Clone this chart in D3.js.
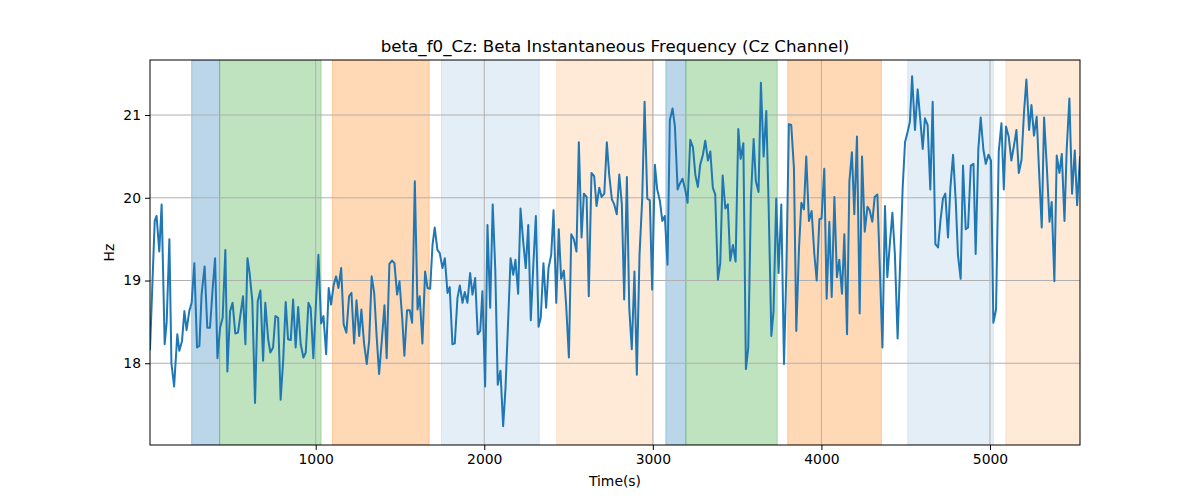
<!DOCTYPE html>
<html>
<head>
<meta charset="utf-8">
<script src="https://cdn.jsdelivr.net/npm/d3@7"></script>
<style>
  body { margin: 0; background: #fff; }
  svg { display: block; }
  text { font-family: "DejaVu Sans", sans-serif; fill: #000; }
</style>
</head>
<body>
<svg id="chart" width="1200" height="500"></svg>
<script>
const title = "beta_f0_Cz: Beta Instantaneous Frequency (Cz Channel)";
const xLabel = "Time(s)";
const yLabel = "Hz";
const xTicks = [1000, 2000, 3000, 4000, 5000];
const yTicks = [18, 19, 20, 21];

const times = [17,45,56,72,86,104,116,132,144,160,179,191,207,221,234,250,264,280,296,310,
323,341,357,373,389,403,417,433,448,464,476,492,507,523,539,555,569,583,595,608,
624,640,656,672,688,701,718,731,747,761,777,792,807,822,836,852,866,881,896,911,
927,941,957,970,986,1002,1016,1032,1046,1062,1077,1091,1107,1121,1135,1151,1166,1182,1198,1212,
1228,1242,1258,1271,1287,1303,1317,1332,1347,1362,1376,1392,1408,1421,1437,1453,1467,1483,1497,1513,
1526,1542,1558,1572,1588,1604,1617,1633,1649,1663,1679,1693,1706,1722,1736,1752,1766,1782,1795,1811,
1825,1841,1855,1871,1884,1900,1916,1930,1946,1961,1976,1989,2005,2019,2035,2050,2065,2080,2096,2112,
2126,2140,2156,2172,2185,2201,2215,2231,2246,2261,2276,2292,2306,2322,2335,2351,2367,2381,2397,2411,
2427,2442,2456,2472,2486,2502,2516,2531,2547,2561,2577,2591,2607,2620,2636,2652,2666,2682,2696,2712,
2727,2741,2757,2771,2786,2801,2816,2830,2846,2860,2875,2891,2905,2921,2937,2951,2967,2982,2996,3012,
3026,3042,3056,3071,3087,3101,3117,3131,3147,3160,3176,3192,3206,3222,3238,3252,3267,3281,3297,3311,
3327,3341,3356,3370,3386,3400,3414,3430,3445,3459,3475,3491,3507,3521,3537,3552,3566,3582,3598,3611,
3627,3641,3657,3673,3687,3703,3716,3732,3746,3762,3778,3792,3807,3821,3837,3851,3867,3881,3896,3910,
3926,3942,3958,3972,3988,4001,4017,4031,4047,4061,4077,4092,4106,4122,4136,4152,4166,4181,4195,4211,
4227,4241,4257,4273,4286,4302,4316,4332,4362,4377,4391,4407,4421,4436,4452,4466,4482,4496,4512,4525,
4538,4555,4571,4585,4601,4614,4630,4646,4660,4676,4692,4706,4721,4735,4751,4765,4781,4797,4810,4826,
4840,4856,4870,4886,4902,4915,4931,4945,4961,4975,4991,5006,5020,5036,5052,5068,5082,5095,5111,5127,
5143,5157,5171,5187,5202,5216,5232,5246,5261,5277,5291,5307,5321,5337,5353,5366,5382,5396,5412,5426,
5442,5455,5471,5487,5503,5517,5534];

const freqs = [18.17,19.72,19.78,19.35,19.92,18.23,18.5,19.5,18.0,17.72,18.35,18.15,18.27,18.63,18.4,18.63,18.73,19.21,18.19,18.21,
18.83,19.17,18.43,18.43,18.91,19.27,18.06,18.43,18.55,19.37,17.9,18.63,18.73,18.36,18.37,18.61,18.81,18.23,19.27,19.09,
18.75,17.52,18.75,18.88,18.03,18.73,18.29,18.13,18.19,18.57,18.55,17.56,18.03,18.74,18.29,18.28,18.77,18.19,18.68,18.23,
18.07,18.13,18.73,18.67,18.06,18.75,19.31,18.48,18.57,18.11,18.91,18.71,18.95,19.05,18.91,19.15,18.47,18.37,18.81,18.85,
18.24,18.76,18.33,18.65,18.24,17.99,18.27,19.05,18.85,18.31,17.87,18.27,18.7,18.06,19.2,19.24,19.21,18.83,18.99,18.55,
18.09,18.64,18.64,18.49,20.2,18.65,18.81,18.24,19.11,18.91,18.9,19.43,19.64,19.37,19.33,19.15,19.27,18.85,18.92,18.23,
18.24,18.79,18.94,18.73,18.86,18.73,19.09,18.83,19.03,18.35,18.39,18.87,17.72,19.67,18.67,19.92,19.15,17.74,17.91,17.24,
17.7,18.43,19.27,19.07,19.25,18.84,19.87,19.47,19.15,19.67,18.52,19.23,19.78,18.44,18.55,19.21,18.67,19.15,19.31,19.85,
18.73,19.62,19.02,19.12,18.69,18.07,19.56,19.5,19.35,20.67,19.52,20.05,20.01,18.81,20.3,20.26,19.9,20.12,20.01,20.05,
20.67,20.28,19.98,19.92,19.8,20.28,19.92,18.77,20.25,18.67,18.17,19.11,17.86,19.31,19.99,21.16,19.99,19.97,18.89,20.4,
20.1,19.96,19.72,19.78,19.19,20.94,21.08,20.86,20.1,20.17,20.23,20.1,19.94,20.7,20.61,20.28,20.13,20.4,20.52,20.69,
20.45,20.56,20.12,20.04,19.01,19.21,20.27,19.87,19.92,19.24,19.43,19.23,20.83,20.47,20.66,17.93,18.19,20.0,20.71,20.2,
20.07,21.39,20.5,21.05,19.9,18.33,18.63,19.99,19.09,19.92,17.99,19.11,20.89,20.88,20.36,18.39,19.39,19.94,19.86,20.5,
19.72,19.84,19.32,19.0,19.74,19.75,20.35,18.78,19.71,18.8,20.01,19.04,19.25,18.84,19.56,18.35,20.2,20.55,19.8,20.74,
18.6,20.5,19.59,19.89,19.85,19.71,20.01,20.04,18.19,19.9,19.04,19.47,19.82,19.31,18.3,19.15,20.12,20.67,20.8,20.92,
21.47,20.82,21.31,20.98,20.59,20.96,20.88,20.1,21.16,19.44,19.4,19.72,19.99,20.05,19.52,20.12,20.52,19.96,19.31,19.02,
20.39,19.62,19.64,20.39,20.41,19.32,20.59,20.97,20.58,20.41,20.52,20.45,18.49,18.65,20.56,20.9,20.1,20.86,20.74,20.45,
20.64,20.82,20.3,20.46,21.04,21.43,20.82,21.12,20.75,20.98,20.33,19.64,20.97,20.38,19.71,19.95,18.99,20.51,20.3,20.53,
19.72,20.58,21.2,20.05,20.57,19.91,20.49];

// Shaded intervals (start, end in seconds) and their colour / opacity
const bandStarts = [264, 430, 1099, 1746, 2429, 3077, 3196, 3800, 4512, 5094];
const bandEnds   = [430, 1032, 1673, 2326, 3003, 3196, 3738, 4356, 5020, 5534];
const bandColors = ["#1f77b4", "#2ca02c", "#ff7f0e", "#1f77b4", "#ff7f0e", "#1f77b4", "#2ca02c", "#ff7f0e", "#1f77b4", "#ff7f0e"];
const bandAlphas = [0.3, 0.3, 0.3, 0.12, 0.16, 0.3, 0.3, 0.3, 0.12, 0.16];

const margin = {left: 150, right: 120, top: 60, bottom: 55};
const W = 1200, H = 500;
const iw = W - margin.left - margin.right;
const ih = H - margin.top - margin.bottom;

const svg = d3.select("#chart");
const g = svg.append("g").attr("transform", `translate(${margin.left},${margin.top})`);

const x = d3.scaleLinear().domain([times[0], times[times.length - 1]]).range([0, iw]);
const y = d3.scaleLinear().domain([17.012, 21.665]).range([ih, 0]);

g.append("defs").append("clipPath").attr("id", "clip")
  .append("rect").attr("width", iw).attr("height", ih);

const bands = bandStarts.map((s, i) => ({s, e: bandEnds[i], c: bandColors[i], a: bandAlphas[i]}));
g.append("g").attr("clip-path", "url(#clip)")
  .selectAll("rect").data(bands).join("rect")
  .attr("x", d => x(d.s)).attr("width", d => x(d.e) - x(d.s))
  .attr("y", 0).attr("height", ih)
  .attr("fill", d => d.c).attr("fill-opacity", d => d.a)
  .attr("stroke", d => d.c).attr("stroke-opacity", d => d.a).attr("stroke-width", 1);

// grid
g.append("g").selectAll("line").data(xTicks).join("line")
  .attr("x1", d => x(d)).attr("x2", d => x(d)).attr("y1", 0).attr("y2", ih)
  .attr("stroke", "#b0b0b0").attr("stroke-width", 1);
g.append("g").selectAll("line").data(yTicks).join("line")
  .attr("y1", d => y(d)).attr("y2", d => y(d)).attr("x1", 0).attr("x2", iw)
  .attr("stroke", "#b0b0b0").attr("stroke-width", 1);

// line
const data = times.map((t, i) => [t, freqs[i]]);
g.append("path").datum(data)
  .attr("clip-path", "url(#clip)")
  .attr("fill", "none").attr("stroke", "#1f77b4").attr("stroke-width", 2)
  .attr("stroke-linejoin", "round").attr("stroke-linecap", "square")
  .attr("d", d3.line().x(d => x(d[0])).y(d => y(d[1])));

// frame
g.append("rect").attr("width", iw).attr("height", ih)
  .attr("fill", "none").attr("stroke", "#000").attr("stroke-width", 1);

// axes
const xAxis = g.append("g").attr("transform", `translate(0,${ih})`)
  .call(d3.axisBottom(x).tickValues(xTicks).tickFormat(d3.format("d")).tickSize(5).tickPadding(4));
const yAxis = g.append("g")
  .call(d3.axisLeft(y).tickValues(yTicks).tickFormat(d3.format("d")).tickSize(5).tickPadding(4));
[xAxis, yAxis].forEach(a => {
  a.select(".domain").remove();
  a.selectAll("text").attr("font-size", 13.9).attr("font-family", "DejaVu Sans, sans-serif").attr("fill", "#000");
  a.selectAll("line").attr("stroke", "#000");
});

svg.append("text").attr("x", margin.left + iw / 2).attr("y", 52)
  .attr("text-anchor", "middle").attr("font-size", 16.7).text(title);
svg.append("text").attr("x", margin.left + iw / 2).attr("y", 486)
  .attr("text-anchor", "middle").attr("font-size", 13.9).text(xLabel);
svg.append("text").attr("transform", `translate(114,${margin.top + ih / 2}) rotate(-90)`)
  .attr("text-anchor", "middle").attr("font-size", 13.9).text(yLabel);
</script>
</body>
</html>
